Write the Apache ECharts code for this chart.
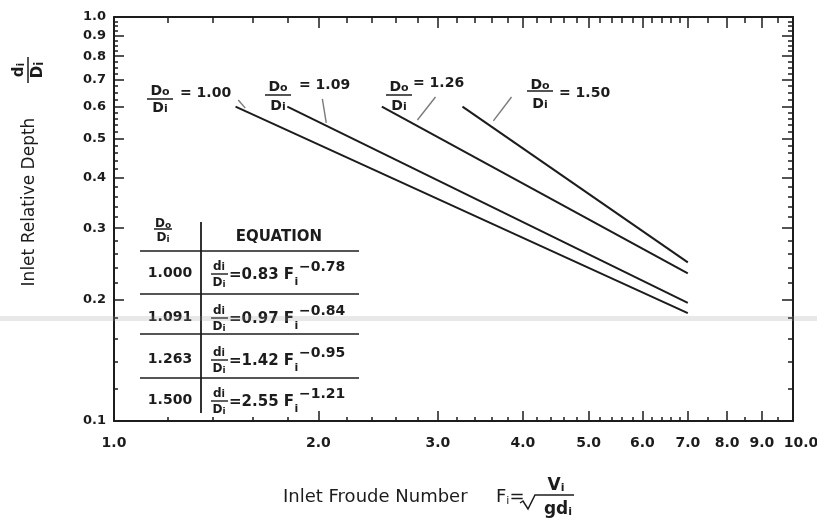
<!DOCTYPE html>
<html>
<head>
<meta charset="utf-8">
<script src="https://cdn.jsdelivr.net/npm/echarts@6/dist/echarts.min.js"></script>
<style>
  html, body { margin: 0; padding: 0; background: #ffffff; }
  #chart { width: 817px; height: 519px; }
</style>
</head>
<body>
<div id="chart"></div>
<script>
// Inlet relative depth d_i/D_i versus inlet Froude number F_i (log-log),
// one straight line per outlet/inlet diameter ratio D_o/D_i.
const ratioNames = ['1.00', '1.09', '1.26', '1.50'];
const depthRatio100 = [[1.51, 0.600], [7.0, 0.185]];
const depthRatio109 = [[1.80, 0.600], [7.0, 0.196]];
const depthRatio126 = [[2.48, 0.600], [7.0, 0.232]];
const depthRatio150 = [[3.26, 0.600], [7.0, 0.247]];

// Leader strokes joining each ratio label to its line
const leader100 = [[1.524, 0.623], [1.561, 0.595]];
const leader109 = [[2.027, 0.627], [2.054, 0.547]];
const leader126 = [[2.975, 0.634], [2.798, 0.556]];
const leader150 = [[3.850, 0.634], [3.620, 0.553]];

// Axis ticks and labels
const xLabelValues = [1, 2, 3, 4, 5, 6, 7, 8, 9, 10];
const xMajorTicks = [2, 3, 4, 5, 6, 7, 8, 9];
const xMinorTicks = [1.2, 1.4, 1.6, 1.8, 2.2, 2.4, 2.6, 2.8, 3.2, 3.4, 3.6, 3.8,
  4.2, 4.4, 4.6, 4.8, 5.2, 5.4, 5.6, 5.8, 6.2, 6.4, 6.6, 6.8, 7.5, 8.5, 9.5];
const yLabelValues = [0.1, 0.2, 0.3, 0.4, 0.5, 0.6, 0.7, 0.8, 0.9, 1.0];
const yMajorTicks = [0.2, 0.3, 0.4, 0.5, 0.6, 0.7, 0.8, 0.9];
const yMinorTicks = [0.12, 0.14, 0.16, 0.18, 0.22, 0.24, 0.26, 0.28,
  0.32, 0.34, 0.36, 0.38, 0.42, 0.44, 0.46, 0.48, 0.52, 0.54, 0.56, 0.58,
  0.625, 0.65, 0.675, 0.725, 0.75, 0.775, 0.825, 0.85, 0.875, 0.925, 0.95, 0.975];

// Equation table rows
const tableRatios = ['1.000', '1.091', '1.263', '1.500'];
const tableCoefs = ['0.83', '0.97', '1.42', '2.55'];
const tableExps = ['\u22120.78', '\u22120.84', '\u22120.95', '\u22121.21'];

const INK = '#1c1c1c';
const FONT = 'DejaVu Sans';
const bold = (s) => 'bold ' + s + 'px "' + FONT + '"';
const reg = (s) => s + 'px "' + FONT + '"';

const GRID = { left: 114, top: 17, right: 24, bottom: 98, outerBoundsMode: 'none' };

const measureCtx = document.createElement('canvas').getContext('2d');
function textWidth(text, font) {
  measureCtx.font = font;
  return measureCtx.measureText(text).width;
}

function txt(x, y, text, font, align, extra) {
  return Object.assign({
    type: 'text', x: x, y: y, z: 10,
    style: { text: text, font: font, fill: INK, textAlign: align || 'left', textVerticalAlign: 'middle' }
  }, extra || {});
}
function seg(x1, y1, x2, y2, w, color) {
  return { type: 'line', z: 10, shape: { x1: x1, y1: y1, x2: x2, y2: y2 },
    style: { stroke: color || INK, lineWidth: w || 1.5 } };
}
// "D" with a small trailing letter, used for D_o and D_i
function dSub(cx, cy, letter, size) {
  return {
    type: 'text', x: cx, y: cy, z: 10,
    style: {
      text: '{m|D}{s|' + letter + '}', textAlign: 'center', textVerticalAlign: 'middle', fill: INK,
      rich: {
        m: { font: bold(size), fill: INK, verticalAlign: 'bottom', lineHeight: size + 2 },
        s: { font: bold(size - 3), fill: INK, verticalAlign: 'bottom', lineHeight: size - 1 }
      }
    }
  };
}
// Stacked D_o / D_i fraction
function ratioFrac(cx, yTop, yBar, yBot, half, size) {
  return [dSub(cx, yTop, 'o', size), seg(cx - half, yBar, cx + half, yBar, 1.5), dSub(cx, yBot, 'i', size)];
}

const graphics = [];

// Curve labels "D_o/D_i = value"
const labelSpots = [
  { cx: 160, top: 90, bar: 99, bot: 107, tx: 180, ty: 93 },
  { cx: 278, top: 86, bar: 95, bot: 105, tx: 299, ty: 85 },
  { cx: 399, top: 86, bar: 95, bot: 105, tx: 413, ty: 83 },
  { cx: 540, top: 84, bar: 91, bot: 103, tx: 559, ty: 93 }
];
labelSpots.forEach((p, i) => {
  graphics.push(...ratioFrac(p.cx, p.top, p.bar, p.bot, 13, 14));
  graphics.push(txt(p.tx, p.ty, '= ' + ratioNames[i], bold(14)));
});

// Equation table
graphics.push(...ratioFrac(163, 223, 229, 237, 9, 12));
graphics.push(txt(279, 237, 'EQUATION', bold(15), 'center'));
graphics.push(seg(201, 222, 201, 413, 1.8));
[251, 294, 334, 378].forEach(y => graphics.push(seg(140, y, 359, y, 1.6)));
const rowY = [273, 317, 359, 400];
rowY.forEach((y, i) => {
  graphics.push(txt(170, y, tableRatios[i], bold(14), 'center'));
  graphics.push({
    type: 'text', x: 219, y: y - 7, z: 10,
    style: { text: '{m|d}{s|i}', textAlign: 'center', textVerticalAlign: 'middle', fill: INK,
      rich: { m: { font: bold(12), fill: INK, verticalAlign: 'bottom', lineHeight: 13 },
              s: { font: bold(10), fill: INK, verticalAlign: 'bottom', lineHeight: 11 } } }
  });
  graphics.push(seg(211, y + 1, 228, y + 1, 1.4));
  graphics.push(dSub(219, y + 9, 'i', 12));
  const main = '=' + tableCoefs[i] + ' F';
  const x0 = 229;
  const w = textWidth(main, bold(15));
  graphics.push(txt(x0, y + 2, main, bold(15)));
  graphics.push(txt(x0 + w + 0.5, y + 9, 'i', bold(11)));
  graphics.push(txt(x0 + w + 5, y - 6, tableExps[i], bold(14)));
});

// Y axis title with d_i/D_i, reading bottom to top
graphics.push(txt(30, 202, 'Inlet Relative Depth', reg(17), 'center', { rotation: Math.PI / 2 }));
graphics.push({
  type: 'text', x: 19, y: 70, z: 10, rotation: Math.PI / 2,
  style: { text: '{m|d}{s|i}', textAlign: 'center', textVerticalAlign: 'middle', fill: INK,
    rich: { m: { font: bold(15), fill: INK, verticalAlign: 'bottom', lineHeight: 16 },
            s: { font: bold(11), fill: INK, verticalAlign: 'bottom', lineHeight: 12 } } }
});
graphics.push(seg(28, 57, 28, 83, 1.5));
graphics.push(Object.assign(dSub(37, 70, 'i', 15), { rotation: Math.PI / 2 }));

// X axis title with F_i = V_i / sqrt(g d_i)
graphics.push(txt(283, 497, 'Inlet Froude Number', reg(18)));
graphics.push({
  type: 'text', x: 496, y: 497, z: 10,
  style: { text: '{m|F}{s|i}{m|=}', textAlign: 'left', textVerticalAlign: 'middle', fill: INK,
    rich: { m: { font: reg(18), fill: INK, verticalAlign: 'middle', lineHeight: 20 },
            s: { font: reg(11), fill: INK, verticalAlign: 'bottom', lineHeight: 14 } } }
});
graphics.push({
  type: 'text', x: 556, y: 485, z: 10,
  style: { text: '{m|V}{s|i}', textAlign: 'center', textVerticalAlign: 'middle', fill: INK,
    rich: { m: { font: bold(17), fill: INK, verticalAlign: 'bottom', lineHeight: 18 },
            s: { font: bold(11), fill: INK, verticalAlign: 'bottom', lineHeight: 12 } } }
});
graphics.push({
  type: 'polyline', z: 10,
  shape: { points: [[520, 503], [523, 501], [528, 509], [535, 495], [574, 495]] },
  style: { stroke: INK, lineWidth: 1.5, fill: null }
});
graphics.push({
  type: 'text', x: 558, y: 509, z: 10,
  style: { text: '{m|gd}{s|i}', textAlign: 'center', textVerticalAlign: 'middle', fill: INK,
    rich: { m: { font: bold(17), fill: INK, verticalAlign: 'bottom', lineHeight: 18 },
            s: { font: bold(11), fill: INK, verticalAlign: 'bottom', lineHeight: 12 } } }
});

// faint grey streak across the sheet
graphics.push({
  type: 'rect', z: 20, silent: true,
  shape: { x: 0, y: 316, width: 817, height: 5 },
  style: { fill: 'rgba(150,150,150,0.22)' }
});

function xAx(gridIndex, position, ticks, len, withLabels, showLine) {
  return {
    type: 'log', logBase: 10, min: 1, max: 10, gridIndex: gridIndex, position: position,
    axisLine: { show: showLine, onZero: false, lineStyle: { color: INK, width: 2 } },
    axisTick: { show: true, inside: true, length: len, customValues: ticks, lineStyle: { color: INK, width: 1.5 } },
    axisLabel: withLabels ? {
      show: true, customValues: xLabelValues, margin: 15, color: INK,
      fontFamily: FONT, fontWeight: 'bold', fontSize: 14,
      formatter: (v) => {
        const s = Number(v).toFixed(1);
        return Number(v) >= 9.99 ? '{r|' + s + '}' : s;
      },
      rich: { r: { fontFamily: FONT, fontWeight: 'bold', fontSize: 14, color: INK, padding: [0, 0, 0, 16] } }
    } : { show: false },
    splitLine: { show: false }, minorTick: { show: false }
  };
}
function yAx(gridIndex, position, ticks, len, withLabels, showLine) {
  return {
    type: 'log', logBase: 10, min: 0.1, max: 1.0, gridIndex: gridIndex, position: position,
    axisLine: { show: showLine, onZero: false, lineStyle: { color: INK, width: 2 } },
    axisTick: { show: true, inside: true, length: len, customValues: ticks, lineStyle: { color: INK, width: 1.5 } },
    axisLabel: withLabels ? {
      show: true, customValues: yLabelValues, margin: 8, color: INK,
      fontFamily: FONT, fontWeight: 'bold', fontSize: 13,
      formatter: (v) => Number(v).toFixed(1)
    } : { show: false },
    splitLine: { show: false }, minorTick: { show: false }
  };
}

function curve(data) {
  return { type: 'line', xAxisIndex: 0, yAxisIndex: 0, data: data, showSymbol: false, symbol: 'none',
    lineStyle: { color: INK, width: 2 }, silent: true, animation: false, z: 3 };
}
function leader(data) {
  return { type: 'line', xAxisIndex: 0, yAxisIndex: 0, data: data, showSymbol: false, symbol: 'none',
    lineStyle: { color: '#7a7a7a', width: 1.4 }, silent: true, animation: false, z: 2 };
}

const chart = echarts.init(document.getElementById('chart'), null, { renderer: 'canvas' });
chart.setOption({
  backgroundColor: '#ffffff',
  animation: false,
  grid: [Object.assign({}, GRID), Object.assign({}, GRID)],
  xAxis: [
    xAx(0, 'bottom', xMajorTicks, 10, true, true),
    xAx(0, 'top', xMajorTicks, 11, false, true),
    xAx(1, 'bottom', xMinorTicks, 4, false, false),
    xAx(1, 'top', xMinorTicks, 6, false, false)
  ],
  yAxis: [
    yAx(0, 'left', yMajorTicks, 10, true, true),
    yAx(0, 'right', yMajorTicks, 11, false, true),
    yAx(1, 'left', yMinorTicks, 4, false, false),
    yAx(1, 'right', yMinorTicks, 5, false, false)
  ],
  series: [
    curve(depthRatio100), curve(depthRatio109), curve(depthRatio126), curve(depthRatio150),
    leader(leader100), leader(leader109), leader(leader126), leader(leader150)
  ],
  graphic: graphics
});
</script>
</body>
</html>
